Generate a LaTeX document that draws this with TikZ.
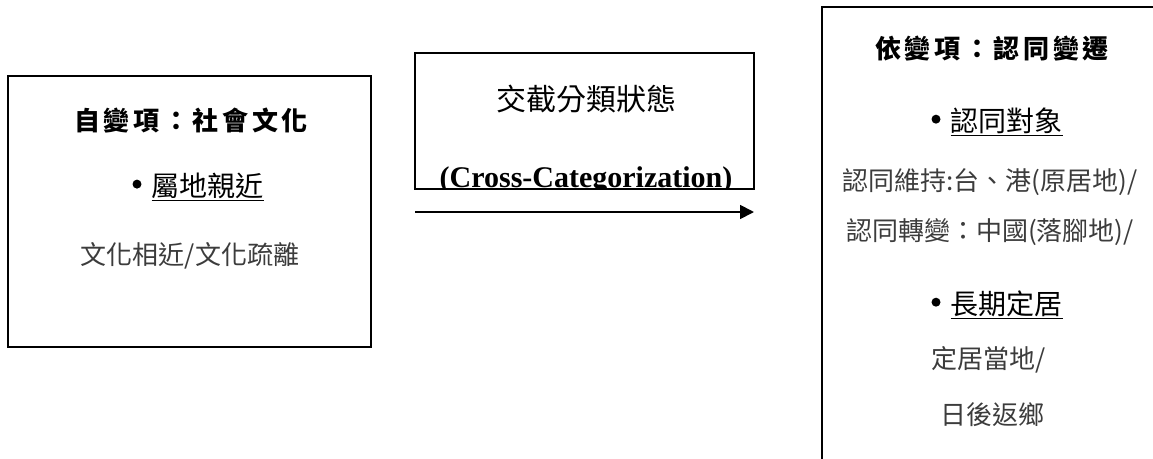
\documentclass[tikz,border=0pt]{standalone}
\usepackage{fontspec}
\setmainfont{Liberation Serif}
\newfontfamily\cjk{Noto Sans CJK TC}
\usetikzlibrary{arrows.meta}
\definecolor{bodygray}{HTML}{3C3C3C}
\newcommand{\mybul}{\raisebox{8pt}{\tikz[x=1pt,y=1pt]\fill[black] (0,0) circle[radius=4.5pt];}\hspace{10pt}}
\begin{document}
\begin{tikzpicture}[x=1pt,y=-1pt,
  box/.style={draw=black,line width=1.6pt,fill=none},
  title/.style={font={\cjk\bfseries\fontsize{26}{30}\selectfont\addfontfeatures{LetterSpace=14}},text=black,inner sep=0pt},
  head/.style={font={\cjk\fontsize{28}{32}\selectfont},text=black,inner sep=0pt},
  body/.style={font={\cjk\fontsize{26}{30}\selectfont},text=bodygray,inner sep=0pt},
  mid/.style={font={\cjk\fontsize{30}{34}\selectfont},text=black,inner sep=0pt},
  eng/.style={font={\bfseries\fontsize{30}{34}\selectfont},text=black,inner sep=0pt}]
\useasboundingbox (0,0) rectangle (1153,458);
% left box
\draw[box] (8,76) rectangle (371,347);
\node[title] (ltitle) at (191,121) {自變項：社會文化};
\node[head] (lhead) at (198,187) {\mybul\underline{屬地親近}};
\node[body] (lbody) at (190,256) {文化相近/文化疏離};
% middle box
\begin{scope}
\clip (415,53) rectangle (754,189);
\node[mid] (mtitle) at (586,99) {交截分類狀態};
\node[eng,anchor=base] (meng) at (586,187) {(Cross-Categorization)};
\end{scope}
\draw[box] (415,53) rectangle (754,189);
\coordinate (as) at (415,212);
\coordinate (ae) at (754,212);
\draw[line width=1.8pt,-{Triangle[length=14pt,width=14pt]}] (as) -- (ae);
% right box
\draw[box] (1170,7) -- (822,7) -- (822,480);
\node[title] (rtitle) at (992,49) {依變項：認同變遷};
\node[head] (rhead1) at (997,122) {\mybul\underline{認同對象}};
\node[body] (rb1) at (990,182) {認同維持:台、港(原居地)/};
\node[body] (rb2) at (990,232) {認同轉變：中國(落腳地)/};
\node[head] (rhead2) at (997,305) {\mybul\underline{長期定居}};
\node[body] (rb3) at (989,360) {定居當地/};
\node[body] (rb4) at (992,415) {日後返鄉};
\end{tikzpicture}
\end{document}
